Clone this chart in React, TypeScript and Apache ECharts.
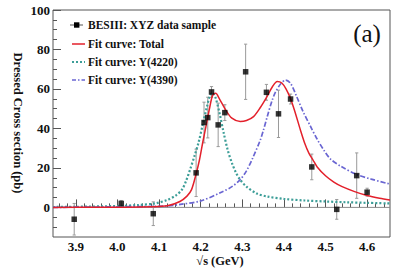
import React, { useEffect, useRef } from "react";
import * as echarts from "echarts";

// Data points (BESIII)
const energies = [3.896, 4.009, 4.086, 4.189, 4.208, 4.217, 4.226, 4.242, 4.258, 4.308, 4.358, 4.387, 4.416, 4.467, 4.527, 4.575, 4.6];
const xsec = [-6, 2, -3.2, 17.5, 43, 45.5, 58.5, 41.8, 48, 68.7, 58.3, 47.4, 54.9, 20.5, -1, 16.1, 7.7];
const xsecErr = [8, 1.5, 6, 12, 10.3, 10.3, 2.7, 11, 4, 14, 4, 12, 2.5, 6.5, 5, 11.5, 2];

// Fit curve: Total
const totalX = [3.845, 3.95, 4.0, 4.08, 4.12, 4.15, 4.167, 4.178, 4.189, 4.197, 4.205, 4.215, 4.222, 4.229, 4.236, 4.245, 4.26, 4.275, 4.295, 4.31, 4.327, 4.343, 4.359, 4.372, 4.384, 4.395, 4.405, 4.415, 4.425, 4.44, 4.45, 4.46, 4.47, 4.48, 4.5, 4.52, 4.54, 4.57, 4.6, 4.63, 4.655];
const totalY = [0, 0.05, 0.1, 0.3, 0.8, 3, 5.7, 9, 17, 24, 33, 43.5, 51, 57, 57.8, 55, 49.4, 45.2, 43.5, 44, 46, 50.5, 56, 61, 63.8, 63, 60, 55.5, 49.5, 39, 32.5, 27.5, 24, 20.5, 16, 12.8, 10.5, 8, 6, 4.6, 3.7];

// Fit curve: Y(4220)
const y4220X = [3.845, 3.9, 4.0, 4.05, 4.09, 4.12, 4.14, 4.155, 4.165, 4.175, 4.185, 4.195, 4.205, 4.215, 4.222, 4.228, 4.235, 4.245, 4.255, 4.265, 4.275, 4.285, 4.295, 4.31, 4.335, 4.36, 4.4, 4.45, 4.5, 4.55, 4.6, 4.655];
const y4220Y = [0.2, 0.3, 0.7, 1.2, 2, 3.8, 6, 9, 13.5, 19.5, 26, 33, 42, 51, 56.5, 58, 56, 48, 38, 29, 22.5, 17.5, 14, 10.5, 7, 5.5, 4.3, 3.5, 3, 2.6, 2.3, 2];

// Fit curve: Y(4390)
const y4390X = [3.845, 4.0, 4.12, 4.151, 4.199, 4.247, 4.275, 4.295, 4.31, 4.325, 4.343, 4.351, 4.36, 4.372, 4.38, 4.392, 4.404, 4.416, 4.43, 4.445, 4.464, 4.48, 4.496, 4.512, 4.537, 4.576, 4.61, 4.655];
const y4390Y = [0, 0.3, 0.7, 1.5, 3.2, 7.4, 10.5, 14.1, 18.5, 25, 34, 39.3, 46, 54.4, 58.5, 62.5, 64.5, 62.8, 56.5, 49, 41, 34.5, 29, 24.5, 20.8, 16.6, 14.3, 11.8];

const xTickLabels = [3.9, 4.0, 4.1, 4.2, 4.3, 4.4, 4.5, 4.6];
const yTickLabels = [0, 20, 40, 60, 80, 100];
const legendNames = ["BESIII: XYZ data sample", "Fit curve: Total", "Fit curve: Y(4220)", "Fit curve: Y(4390)"];

const FONT = "Liberation Serif";
const RED = "#e3202b";
const TEAL = "#3d9e98";
const BLUE = "#6a66d2";

export default function App() {
  const ref = useRef<HTMLDivElement>(null);
  useEffect(() => {
    const chart = echarts.init(ref.current!, null, { renderer: "svg" });
    const xMin = 3.845, xMax = 4.655, yMin = -15, yMax = 100;
    const xMinor: number[] = [];
    for (let i = 193; i <= 232; i++) if (i % 5 !== 0) xMinor.push(Math.round(i * 2) / 100);
    const yMinor: number[] = [];
    for (let i = -2; i <= 19; i++) if (i % 4 !== 0) yMinor.push(i * 5);
    const gridRect = { left: 53, right: 8, top: 10, bottom: 36 };
    const zip = (a: number[], b: number[]) => a.map((v, i) => [v, b[i]]);
    const tickColor = "#555";

    const option: any = {
      animation: false,
      grid: [
        { ...gridRect, show: true, borderColor: "#555", borderWidth: 1, backgroundColor: "transparent" },
        { ...gridRect, show: false },
      ],
      xAxis: [
        {
          gridIndex: 0, type: "value", min: xMin, max: xMax,
          axisLine: { show: false }, splitLine: { show: false },
          axisTick: { show: true, inside: true, length: 8, customValues: xTickLabels, lineStyle: { color: tickColor } },
          axisLabel: { customValues: xTickLabels, formatter: (v: number) => v.toFixed(1), fontFamily: FONT, fontWeight: "bold", fontSize: 13, color: "#111", margin: 3 },
        },
        {
          gridIndex: 1, type: "value", min: xMin, max: xMax,
          axisLine: { show: false }, splitLine: { show: false },
          axisTick: { show: true, inside: true, length: 4, customValues: xMinor, lineStyle: { color: tickColor } },
          axisLabel: { show: false },
        },
      ],
      yAxis: [
        {
          gridIndex: 0, type: "value", min: yMin, max: yMax,
          axisLine: { show: false }, splitLine: { show: false },
          axisTick: { show: true, inside: true, length: 8, customValues: yTickLabels, lineStyle: { color: tickColor } },
          axisLabel: { customValues: yTickLabels, fontFamily: FONT, fontWeight: "bold", fontSize: 13, color: "#111", margin: 3 },
        },
        {
          gridIndex: 1, type: "value", min: yMin, max: yMax,
          axisLine: { show: false }, splitLine: { show: false },
          axisTick: { show: true, inside: true, length: 4, customValues: yMinor, lineStyle: { color: tickColor } },
          axisLabel: { show: false },
        },
      ],
      series: [
        {
          type: "line", xAxisIndex: 0, yAxisIndex: 0, data: [[xMin, 0], [xMax, 0]],
          showSymbol: false, symbol: "none", silent: true,
          lineStyle: { color: "#8a8a8a", width: 1 }, z: 1,
        },
        {
          type: "custom", xAxisIndex: 0, yAxisIndex: 0, z: 2,
          data: energies.map((e, i) => [e, xsec[i] - xsecErr[i], xsec[i] + xsecErr[i]]),
          encode: { x: 0, y: [1, 2] },
          renderItem: (params: any, api: any) => {
            const x = api.value(0);
            const lo = api.coord([x, api.value(1)]);
            const hi = api.coord([x, api.value(2)]);
            const c = 1.6;
            const st = { stroke: "#9a9a9a", lineWidth: 1 };
            return {
              type: "group",
              children: [
                { type: "line", shape: { x1: lo[0], y1: lo[1], x2: hi[0], y2: hi[1] }, style: st },
                { type: "line", shape: { x1: lo[0] - c, y1: lo[1], x2: lo[0] + c, y2: lo[1] }, style: st },
                { type: "line", shape: { x1: hi[0] - c, y1: hi[1], x2: hi[0] + c, y2: hi[1] }, style: st },
              ],
            };
          },
        },
        {
          name: legendNames[2], type: "line", xAxisIndex: 0, yAxisIndex: 0, z: 3,
          data: zip(y4220X, y4220Y), smooth: 0.3, showSymbol: false, symbol: "none",
          lineStyle: { color: TEAL, width: 2.2, type: [2, 2] },
        },
        {
          name: legendNames[3], type: "line", xAxisIndex: 0, yAxisIndex: 0, z: 3,
          data: zip(y4390X, y4390Y), smooth: 0.3, showSymbol: false, symbol: "none",
          lineStyle: { color: BLUE, width: 1.7, type: [5, 2, 1.5, 2] },
        },
        {
          name: legendNames[1], type: "line", xAxisIndex: 0, yAxisIndex: 0, z: 4,
          data: zip(totalX, totalY), smooth: 0.3, showSymbol: false, symbol: "none",
          lineStyle: { color: RED, width: 1.5 },
        },
        {
          name: legendNames[0], type: "scatter", xAxisIndex: 0, yAxisIndex: 0, z: 5,
          data: zip(energies, xsec), symbol: "rect", symbolSize: 5.5,
          itemStyle: { color: "#000" },
        },
      ],
      graphic: [
        { type: "line", shape: { x1: 70, y1: 25, x2: 83, y2: 25 }, style: { stroke: "#555", lineWidth: 1 } },
        { type: "rect", shape: { x: 74, y: 22.3, width: 5.4, height: 5.4 }, style: { fill: "#000" } },
        { type: "line", shape: { x1: 72, y1: 44, x2: 85, y2: 44 }, style: { stroke: RED, lineWidth: 1.5 } },
        { type: "line", shape: { x1: 72, y1: 62, x2: 85, y2: 62 }, style: { stroke: TEAL, lineWidth: 2, lineDash: [2, 2] } },
        { type: "line", shape: { x1: 72, y1: 80, x2: 85, y2: 80 }, style: { stroke: BLUE, lineWidth: 1.6, lineDash: [4, 2, 1.5, 2] } },
        ...legendNames.map((t, i) => ({
          type: "text", x: 88, y: [25, 44, 62, 80][i],
          style: { text: t, fontFamily: FONT, fontWeight: "bold", fontSize: 11.5, fill: "#111", verticalAlign: "middle", align: "left" },
        })),
        {
          type: "text", x: 18, y: 123, rotation: -Math.PI / 2,
          style: { text: "Dressed Cross section (pb)", fontFamily: FONT, fontWeight: "bold", fontSize: 12.5, fill: "#111", align: "center", verticalAlign: "middle" },
        },
        {
          type: "text", x: 220, y: 261,
          style: { text: "√s (GeV)", fontFamily: FONT, fontWeight: "bold", fontSize: 12.5, fill: "#111", align: "center", verticalAlign: "middle" },
        },
        {
          type: "text", x: 367, y: 33,
          style: { text: "(a)", fontFamily: FONT, fontSize: 25, fill: "#111", align: "center", verticalAlign: "middle" },
        },
      ],
    };
    chart.setOption(option);
    return () => chart.dispose();
  }, []);
  return <div ref={ref} style={{ position: "absolute", left: 0, top: 0, width: 398, height: 273, background: "#fff" }} />;
}
